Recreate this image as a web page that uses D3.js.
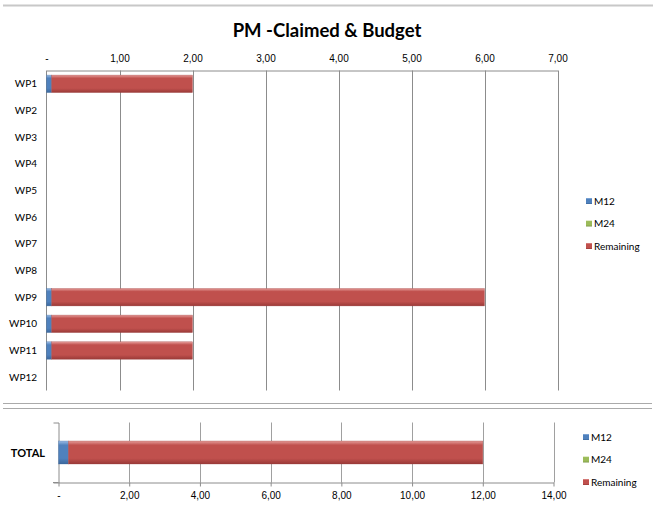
<!DOCTYPE html>
<html><head><meta charset="utf-8">
<script src="https://cdn.jsdelivr.net/npm/d3@7"></script>
<style>
body{margin:0;background:#fff;}
svg{display:block;font-family:Lato,"Open Sans",sans-serif;}
</style></head>
<body>
<svg id="c" width="653" height="506"></svg>
<script>
const categories = ["WP1","WP2","WP3","WP4","WP5","WP6","WP7","WP8","WP9","WP10","WP11","WP12"];
const seriesNames = ["M12","M24","Remaining"];
const m12 = [0.07,0,0,0,0,0,0,0,0.07,0.07,0.07,0];
const m24 = [0,0,0,0,0,0,0,0,0,0,0,0];
const remaining = [1.93,0,0,0,0,0,0,0,5.93,1.93,1.93,0];
const topTicks = [0,1,2,3,4,5,6,7];
const totalCategory = ["TOTAL"];
const totalM12 = [0.28];
const totalM24 = [0];
const totalRemaining = [11.72];
const bottomTicks = [0,2,4,6,8,10,12,14];
const title = "PM -Claimed & Budget";

const colors = {M12:["#9dbde6","#4f81bd","#3b679c"], M24:["#c6dc94","#9bbb59","#7a9644"], Remaining:["#e59d9a","#c0504d","#9a3a38"]};
const svg = d3.select("#c");
const defs = svg.append("defs");
seriesNames.forEach(s=>{
  const g = defs.append("linearGradient").attr("id","g"+s).attr("x1",0).attr("x2",0).attr("y1",0).attr("y2",1);
  g.append("stop").attr("offset","0%").attr("stop-color",colors[s][0]);
  g.append("stop").attr("offset","18%").attr("stop-color",colors[s][1]);
  g.append("stop").attr("offset","75%").attr("stop-color",colors[s][1]);
  g.append("stop").attr("offset","100%").attr("stop-color",colors[s][2]);
});
const fmt = v => v===0 ? "-" : d3.format(".2f")(v).replace(".",",");

// separators
svg.append("line").attr("x1",3).attr("x2",653).attr("y1",5.5).attr("y2",5.5).attr("stroke","#c8c8c8").attr("stroke-width",2);
svg.append("line").attr("x1",3).attr("x2",652).attr("y1",403.5).attr("y2",403.5).attr("stroke","#aaa").attr("stroke-width",1);
svg.append("line").attr("x1",3).attr("x2",652).attr("y1",408.5).attr("y2",408.5).attr("stroke","#aaa").attr("stroke-width",1);

// title
svg.append("text").attr("x",327).attr("y",37).attr("text-anchor","middle").attr("font-weight","bold").attr("font-size",18.5).attr("fill","#000").text(title);

// ---------- top chart ----------
const x1 = d3.scaleLinear().domain([0,7]).range([46.5,557.5]);
const y1 = d3.scaleBand().domain(categories).range([70.5,390.5]).paddingInner(0.344).paddingOuter(0.172);
const g1 = svg.append("g");
g1.selectAll("line.grid").data(topTicks.slice(1)).join("line").attr("class","grid")
  .attr("x1",d=>Math.round(x1(d))+0.5).attr("x2",d=>Math.round(x1(d))+0.5).attr("y1",70.5).attr("y2",390.5)
  .attr("stroke","#8c8c8c").attr("stroke-width",1);
const topAxis = g1.append("g").attr("transform","translate(0,70.5)")
  .call(d3.axisTop(x1).tickValues(topTicks).tickFormat(fmt).tickSize(0).tickPadding(9));
topAxis.select(".domain").attr("stroke","#8c8c8c");
topAxis.selectAll("text").attr("font-size",10).attr("fill","#000");
g1.append("line").attr("x1",46.5).attr("x2",46.5).attr("y1",70.5).attr("y2",390.5).attr("stroke","#8c8c8c");
g1.append("g").selectAll("text").data(categories).join("text")
  .attr("x",37).attr("y",d=>y1(d)+y1.bandwidth()/2+3.5).attr("text-anchor","end")
  .attr("font-size",10).attr("fill","#000").text(d=>d);

const rows = categories.map((c,i)=>({cat:c,M12:m12[i],M24:m24[i],Remaining:remaining[i]}));
const stack = d3.stack().keys(seriesNames);
const st1 = stack(rows);
st1.forEach(layer=>{
  g1.append("g").selectAll("rect").data(layer.filter(d=>d[1]-d[0]>0)).join("rect")
    .attr("x",d=>x1(d[0])).attr("width",d=>x1(d[1])-x1(d[0]))
    .attr("y",d=>y1(d.data.cat)).attr("height",y1.bandwidth())
    .attr("fill","url(#g"+layer.key+")").attr("stroke",colors[layer.key][2]).attr("stroke-width",0.5).attr("stroke-opacity",0.6);
});

function legend(x,y,gap){
  const lg = svg.append("g");
  seriesNames.forEach((s,i)=>{
    lg.append("rect").attr("x",x).attr("y",y+i*gap-5).attr("width",6).attr("height",6).attr("fill","url(#g"+s+")");
    lg.append("text").attr("x",x+8).attr("y",y+i*gap+1.5).attr("font-size",10).attr("fill","#000").text(s);
  });
}
legend(586,203,22.5);

// ---------- bottom chart ----------
const x2 = d3.scaleLinear().domain([0,14]).range([58.5,553.5]);
const y2 = d3.scaleBand().domain(totalCategory).range([422.5,482.5]).paddingInner(0.446).paddingOuter(0.446);
const g2 = svg.append("g");
g2.selectAll("line.grid").data(bottomTicks.slice(1)).join("line")
  .attr("x1",d=>Math.round(x2(d))+0.5).attr("x2",d=>Math.round(x2(d))+0.5).attr("y1",422.5).attr("y2",482.5)
  .attr("stroke","#a0a0a0");
const botAxis = g2.append("g").attr("transform","translate(0,482.5)")
  .call(d3.axisBottom(x2).tickValues(bottomTicks).tickFormat(fmt).tickSizeInner(4).tickSizeOuter(0).tickPadding(5));
botAxis.select(".domain").attr("stroke","#8c8c8c");
botAxis.selectAll(".tick line").attr("stroke","#8c8c8c");
botAxis.selectAll("text").attr("font-size",10).attr("fill","#000");
g2.append("line").attr("x1",53).attr("x2",58.5).attr("y1",482.5).attr("y2",482.5).attr("stroke","#8c8c8c");
const leftAxis = g2.append("g").attr("transform","translate(58.5,0)")
  .call(d3.axisLeft(y2).tickValues([]).tickSizeOuter(5));
leftAxis.select(".domain").attr("stroke","#8c8c8c");
g2.append("text").attr("x",45).attr("y",y2("TOTAL")+y2.bandwidth()/2+4).attr("text-anchor","end")
  .attr("font-weight","bold").attr("font-size",11).attr("fill","#000").text("TOTAL");
const totRows = totalCategory.map((c,i)=>({cat:c,M12:totalM12[i],M24:totalM24[i],Remaining:totalRemaining[i]}));
stack(totRows).forEach(layer=>{
  g2.append("g").selectAll("rect").data(layer.filter(d=>d[1]-d[0]>0)).join("rect")
    .attr("x",d=>x2(d[0])).attr("width",d=>x2(d[1])-x2(d[0]))
    .attr("y",d=>y2(d.data.cat)).attr("height",y2.bandwidth())
    .attr("fill","url(#g"+layer.key+")").attr("stroke",colors[layer.key][2]).attr("stroke-width",0.5).attr("stroke-opacity",0.6);
});
legend(583,439,22.5);
</script>
</body></html>
